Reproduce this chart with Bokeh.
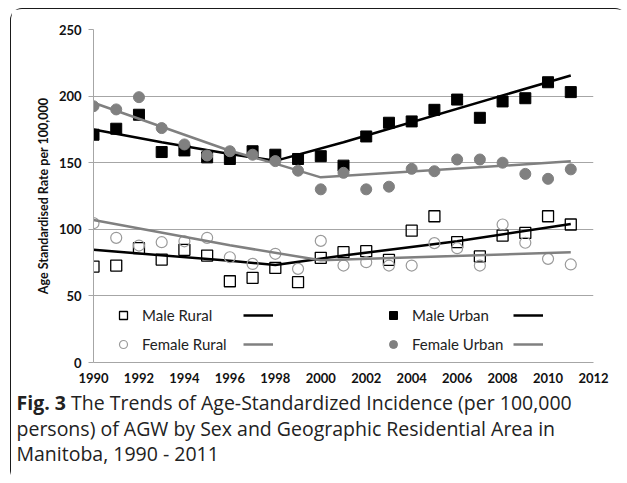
from bokeh.plotting import figure
from bokeh.layouts import column
from bokeh.models import Legend, LegendItem, Range1d, FixedTicker, Div
from bokeh.embed import file_html
from bokeh.resources import INLINE

years = list(range(1990, 2012))
male_rural = [72, 72.8, 85.8, 77.3, 84.6, 80.3, 61, 63.6, 71, 60.3, 78.6,
              82.8, 83.6, 77, 99, 109.8, 90.3, 79.6, 95.3, 97.3, 109.8, 103.6]
female_rural = [104.6, 93.6, 87.8, 90.3, 91, 93.6, 79, 74, 81.6, 70.3, 91.3,
                72.8, 75.3, 72.8, 72.8, 89.6, 85.8, 72.8, 103.6, 89.9, 77.8, 73.6]
male_urban = [171, 175.5, 186, 158, 159.2, 154, 152.8, 158.6, 156, 152.8, 154.9,
              147.8, 169.7, 180, 181, 189.7, 197.4, 183.7, 196, 198.4, 210.4, 203]
female_urban = [192.4, 190, 199.2, 176, 163.7, 155.4, 158.6, 156, 151.2, 144, 130,
                142.4, 130, 132, 145.4, 143.6, 152.4, 152.4, 150, 141.6, 137.9, 145]

mr_trend_years = [1990, 1996, 1998, 2001, 2006, 2011]
mr_trend = [84.6, 76.3, 73.2, 80.3, 91, 104]
fr_trend_years = [1990, 1996, 2000, 2011]
fr_trend = [107, 88, 76.7, 82.8]
mu_trend_years = [1990, 1993, 1996, 1998, 2001, 2011]
mu_trend = [175, 165.4, 156.6, 151.4, 165.4, 215.5]
fu_trend_years = [1990, 1993, 1996, 1998, 2000, 2011]
fu_trend = [195, 177, 159, 149.3, 139, 151]

x_ticks = list(range(1990, 2013, 2))
y_ticks = [0, 50, 100, 150, 200, 250]

series_labels = ["Male Rural", "Male Urban", "Female Rural", "Female Urban"]
y_label = "Age Standardised Rate per 100,000"
caption_bold = "Fig. 3"
caption_lines = ["The Trends of Age-Standardized Incidence (per 100,000",
                 "persons) of AGW by Sex and Geographic Residential Area in",
                 "Manitoba, 1990 - 2011"]

BLACK = "#000000"
GRAY = "#808080"
GRID = "#a6a6a6"
TXT = "#222222"

p = figure(frame_width=500, frame_height=333,
           min_border_left=82, min_border_right=33, min_border_top=20, min_border_bottom=28,
           x_range=Range1d(1990, 2012), y_range=Range1d(0, 250),
           output_backend="svg", toolbar_location=None)
p.outline_line_color = None
p.background_fill_color = "white"
p.border_fill_color = "white"

p.xgrid.grid_line_color = None
p.ygrid.grid_line_color = GRID
p.ygrid.grid_line_width = 1

p.xaxis.ticker = FixedTicker(ticks=x_ticks)
p.yaxis.ticker = FixedTicker(ticks=y_ticks)
for ax in (p.xaxis[0], p.yaxis[0]):
    ax.axis_line_color = GRID
    ax.axis_line_width = 1
    ax.minor_tick_line_color = None
    ax.major_tick_in = 0
    ax.major_tick_line_color = GRID
    ax.major_label_text_font = "Lato"
    ax.major_label_text_font_style = "bold"
    ax.major_label_text_font_size = "13px"
    ax.major_label_text_color = "#111111"
p.xaxis.major_tick_out = 0
p.xaxis.major_label_standoff = 10
p.yaxis.major_tick_out = 5
p.yaxis.major_label_standoff = 7
p.yaxis.axis_label = y_label
p.yaxis.axis_label_text_font = "Lato"
p.yaxis.axis_label_text_font_style = "bold"
p.yaxis.axis_label_text_font_size = "12.5px"
p.yaxis.axis_label_text_color = "#111111"
p.yaxis.axis_label_standoff = 5

# series (Excel order)
r_mr = p.scatter(years, male_rural, marker="square", size=11, fill_color=None,
                 line_color=BLACK, line_width=1.3)
l_mr = p.line(mr_trend_years, mr_trend, line_color=BLACK, line_width=2.5)
r_mu = p.scatter(years, male_urban, marker="square", size=11, fill_color=BLACK,
                 line_color=BLACK)
l_mu = p.line(mu_trend_years, mu_trend, line_color=BLACK, line_width=2.5)
r_fr = p.scatter(years, female_rural, marker="circle", size=11, fill_color=None,
                 line_color="#9a9a9a", line_width=1.2)
l_fr = p.line(fr_trend_years, fr_trend, line_color=GRAY, line_width=2.5)
r_fu = p.scatter(years, female_urban, marker="circle", size=11, fill_color=GRAY,
                 line_color=GRAY)
l_fu = p.line(fu_trend_years, fu_trend, line_color=GRAY, line_width=2.5)

items = [
    LegendItem(label=series_labels[0], renderers=[r_mr]),
    LegendItem(label="", renderers=[l_mr]),
    LegendItem(label=series_labels[1], renderers=[r_mu]),
    LegendItem(label="", renderers=[l_mu]),
    LegendItem(label=series_labels[2], renderers=[r_fr]),
    LegendItem(label="", renderers=[l_fr]),
    LegendItem(label=series_labels[3], renderers=[r_fu]),
    LegendItem(label="", renderers=[l_fu]),
]
legend = Legend(items=items, ncols=4, orientation="horizontal", location=(15, 8),
                border_line_alpha=0, background_fill_alpha=0, padding=0, margin=0,
                spacing=9, glyph_width=30, glyph_height=20, label_standoff=4,
                label_width=92, label_text_font="Lato", label_text_font_size="15px",
                label_text_color=TXT)
p.add_layout(legend)

caption_html = ("<b>" + caption_bold + "</b> " + caption_lines[0] + "<br>"
                + caption_lines[1] + "<br>" + caption_lines[2])
cap = Div(text=caption_html, width=615, height=91, margin=0,
          styles={"font-family": "'Open Sans'", "font-size": "19.5px", "line-height": "25.5px",
                  "color": TXT, "padding-left": "5.5px", "padding-top": "0px",
                  "white-space": "nowrap", "background-color": "white"})

layout = column(p, cap, spacing=0,
                styles={"margin-left": "10px", "margin-top": "8px",
                        "border": "1.5px solid #1a1a1a", "border-radius": "12px",
                        "border-right-color": "transparent",
                        "border-bottom-color": "transparent",
                        "background-color": "white"})

open("out.html", "w").write(file_html(layout, INLINE))
